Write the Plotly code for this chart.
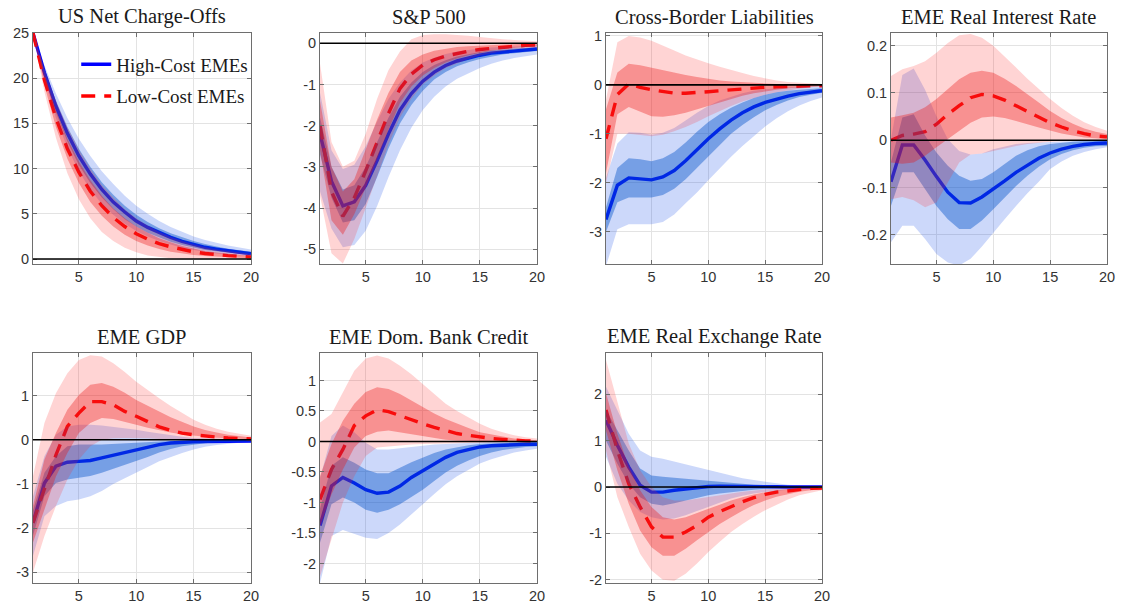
import plotly.graph_objects as go

# Horizon (quarters) shared by every panel
horizon = list(range(1, 21))

# ---------------- US Net Charge-Offs ----------------
nco_high = [25, 20.6, 16.9, 13.9, 11.4, 9.4, 7.7, 6.3, 5.2, 4.2, 3.5, 2.9, 2.4, 1.95, 1.6, 1.3, 1.1, 0.9, 0.75, 0.6]
nco_high_lo90 = [25, 19.9, 15.6, 12.3, 9.7, 7.7, 6.1, 4.9, 3.9, 3.1, 2.5, 2.0, 1.6, 1.25, 1.0, 0.8, 0.6, 0.5, 0.4, 0.3]
nco_high_lo68 = [25, 20.2, 16.2, 13.0, 10.4, 8.4, 6.8, 5.5, 4.4, 3.6, 2.9, 2.4, 1.9, 1.55, 1.25, 1.0, 0.85, 0.7, 0.55, 0.45]
nco_high_hi68 = [25, 21.0, 17.5, 14.6, 12.2, 10.2, 8.5, 7.1, 5.9, 4.9, 4.1, 3.4, 2.85, 2.4, 2.0, 1.65, 1.4, 1.15, 0.95, 0.8]
nco_high_hi90 = [25, 21.4, 18.3, 15.6, 13.3, 11.4, 9.7, 8.3, 7.0, 5.9, 5.0, 4.2, 3.55, 3.0, 2.5, 2.1, 1.8, 1.5, 1.25, 1.05]
nco_low = [25, 19.8, 15.6, 12.2, 9.6, 7.5, 5.9, 4.6, 3.6, 2.8, 2.2, 1.7, 1.35, 1.05, 0.8, 0.62, 0.48, 0.38, 0.3, 0.24]
nco_low_lo90 = [25, 18.5, 13.4, 9.5, 6.6, 4.5, 3.0, 2.0, 1.25, 0.75, 0.4, 0.2, 0.08, 0.02, 0, 0, 0, 0, 0, 0]
nco_low_lo68 = [25, 19.2, 14.6, 11.1, 8.4, 6.3, 4.8, 3.6, 2.7, 2.0, 1.5, 1.1, 0.82, 0.6, 0.45, 0.34, 0.26, 0.2, 0.15, 0.11]
nco_low_hi68 = [25, 20.4, 16.5, 13.3, 10.8, 8.7, 7.0, 5.6, 4.5, 3.6, 2.9, 2.3, 1.85, 1.45, 1.15, 0.9, 0.72, 0.57, 0.45, 0.36]
nco_low_hi90 = [25, 21.0, 17.5, 14.6, 12.1, 10.0, 8.2, 6.8, 5.5, 4.5, 3.7, 3.0, 2.45, 2.0, 1.6, 1.3, 1.05, 0.85, 0.7, 0.56]

# ---------------- S&P 500 ----------------
sp_high = [-2.2, -3.35, -3.95, -3.85, -3.45, -2.85, -2.2, -1.62, -1.22, -0.92, -0.7, -0.54, -0.43, -0.35, -0.29, -0.24, -0.21, -0.18, -0.16, -0.14]
sp_high_lo90 = [-3.6, -4.5, -4.95, -4.9, -4.55, -3.95, -3.25, -2.6, -2.05, -1.62, -1.3, -1.05, -0.86, -0.72, -0.6, -0.5, -0.42, -0.36, -0.31, -0.27]
sp_high_lo68 = [-2.7, -3.75, -4.35, -4.3, -3.9, -3.25, -2.55, -1.95, -1.5, -1.15, -0.88, -0.7, -0.56, -0.46, -0.38, -0.32, -0.27, -0.24, -0.21, -0.19]
sp_high_hi68 = [-1.8, -3.0, -3.55, -3.45, -3.0, -2.4, -1.8, -1.3, -0.95, -0.7, -0.53, -0.41, -0.32, -0.26, -0.21, -0.17, -0.15, -0.13, -0.11, -0.1]
sp_high_hi90 = [-1.2, -2.6, -3.05, -2.95, -2.5, -1.9, -1.35, -0.95, -0.66, -0.47, -0.35, -0.26, -0.2, -0.16, -0.13, -0.1, -0.08, -0.07, -0.06, -0.05]
sp_low = [-2.0, -3.6, -4.2, -3.75, -3.1, -2.4, -1.7, -1.1, -0.75, -0.53, -0.4, -0.31, -0.24, -0.19, -0.15, -0.12, -0.09, -0.07, -0.05, -0.04]
sp_low_lo90 = [-3.7, -5.1, -5.35, -4.75, -4.0, -3.2, -2.45, -1.8, -1.35, -1.0, -0.78, -0.6, -0.48, -0.38, -0.3, -0.24, -0.19, -0.15, -0.12, -0.1]
sp_low_lo68 = [-2.6, -4.3, -4.65, -4.15, -3.5, -2.8, -2.1, -1.45, -1.05, -0.78, -0.6, -0.47, -0.37, -0.29, -0.23, -0.18, -0.14, -0.11, -0.09, -0.07]
sp_low_hi68 = [-1.4, -3.0, -3.6, -3.3, -2.6, -1.85, -1.2, -0.7, -0.42, -0.27, -0.18, -0.13, -0.09, -0.07, -0.05, -0.04, -0.03, -0.02, -0.01, -0.01]
sp_low_hi90 = [-0.5, -2.4, -3.0, -2.85, -2.2, -1.35, -0.65, -0.2, 0.1, 0.2, 0.22, 0.22, 0.2, 0.18, 0.15, 0.12, 0.1, 0.08, 0.06, 0.05]

# ---------------- Cross-Border Liabilities ----------------
cbl_high = [-2.75, -2.05, -1.9, -1.92, -1.94, -1.88, -1.75, -1.55, -1.32, -1.1, -0.9, -0.72, -0.57, -0.45, -0.36, -0.29, -0.23, -0.18, -0.15, -0.12]
cbl_high_lo90 = [-3.7, -2.95, -2.85, -2.85, -2.85, -2.8, -2.65, -2.42, -2.2, -1.95, -1.7, -1.47, -1.25, -1.05, -0.85, -0.68, -0.54, -0.42, -0.33, -0.26]
cbl_high_lo68 = [-3.0, -2.4, -2.3, -2.3, -2.3, -2.25, -2.12, -1.93, -1.7, -1.46, -1.22, -1.0, -0.82, -0.66, -0.52, -0.41, -0.32, -0.25, -0.2, -0.16]
cbl_high_hi68 = [-2.5, -1.7, -1.5, -1.52, -1.56, -1.5, -1.37, -1.18, -0.96, -0.76, -0.6, -0.47, -0.36, -0.27, -0.2, -0.15, -0.12, -0.1, -0.08, -0.07]
cbl_high_hi90 = [-1.9, -1.2, -0.97, -0.98, -1.02, -0.98, -0.88, -0.73, -0.57, -0.43, -0.32, -0.24, -0.17, -0.12, -0.09, -0.07, -0.05, -0.04, -0.03, -0.03]
cbl_low = [-1.1, -0.2, 0.02, -0.05, -0.1, -0.14, -0.17, -0.17, -0.16, -0.14, -0.12, -0.1, -0.08, -0.07, -0.05, -0.04, -0.03, -0.03, -0.02, -0.02]
cbl_low_lo90 = [-2.0, -1.0, -1.0, -1.02, -1.05, -1.02, -0.95, -0.86, -0.76, -0.64, -0.53, -0.43, -0.34, -0.27, -0.2, -0.15, -0.11, -0.08, -0.05, -0.03]
cbl_low_lo68 = [-1.8, -0.6, -0.45, -0.55, -0.64, -0.65, -0.62, -0.57, -0.5, -0.42, -0.35, -0.28, -0.22, -0.17, -0.13, -0.1, -0.07, -0.05, -0.04, -0.03]
cbl_low_hi68 = [-0.5, 0.25, 0.43, 0.4, 0.35, 0.3, 0.25, 0.2, 0.16, 0.12, 0.09, 0.07, 0.05, 0.04, 0.03, 0.02, 0.01, 0.01, 0.01, 0.0]
cbl_low_hi90 = [-0.3, 0.87, 1.0, 0.97, 0.9, 0.8, 0.7, 0.6, 0.52, 0.44, 0.37, 0.3, 0.24, 0.18, 0.13, 0.09, 0.06, 0.04, 0.03, 0.02]

# ---------------- EME Real Interest Rate ----------------
rir_high = [-0.088, -0.01, -0.01, -0.042, -0.077, -0.11, -0.132, -0.133, -0.12, -0.104, -0.086, -0.068, -0.052, -0.038, -0.027, -0.019, -0.013, -0.009, -0.007, -0.006]
rir_high_lo90 = [-0.216, -0.181, -0.181, -0.209, -0.241, -0.259, -0.265, -0.251, -0.225, -0.195, -0.167, -0.139, -0.112, -0.088, -0.061, -0.045, -0.033, -0.025, -0.019, -0.015]
rir_high_lo68 = [-0.139, -0.068, -0.068, -0.103, -0.139, -0.167, -0.188, -0.188, -0.17, -0.146, -0.121, -0.097, -0.075, -0.056, -0.04, -0.029, -0.021, -0.016, -0.013, -0.012]
rir_high_hi68 = [-0.047, 0.048, 0.055, 0.01, -0.026, -0.054, -0.075, -0.086, -0.082, -0.068, -0.05, -0.033, -0.021, -0.013, -0.008, -0.005, -0.003, -0.002, -0.001, -0.001]
rir_high_hi90 = [0.002, 0.138, 0.152, 0.107, 0.051, 0.002, -0.023, -0.03, -0.028, -0.019, -0.013, -0.008, -0.006, -0.004, -0.003, -0.002, -0.001, -0.001, 0.0, 0.0]
rir_low = [0.0, 0.01, 0.013, 0.018, 0.034, 0.055, 0.073, 0.09, 0.097, 0.094, 0.085, 0.073, 0.06, 0.048, 0.037, 0.028, 0.02, 0.014, 0.009, 0.007]
rir_low_lo90 = [-0.125, -0.12, -0.127, -0.142, -0.132, -0.09, -0.047, -0.03, -0.028, -0.023, -0.017, -0.012, -0.008, -0.005, -0.003, -0.002, -0.001, 0.0, 0.0, 0.0]
rir_low_lo68 = [-0.047, -0.05, -0.047, -0.033, -0.015, 0.002, 0.02, 0.037, 0.048, 0.05, 0.047, 0.041, 0.034, 0.027, 0.02, 0.014, 0.01, 0.006, 0.004, 0.002]
rir_low_hi68 = [0.048, 0.053, 0.058, 0.07, 0.087, 0.108, 0.129, 0.143, 0.147, 0.143, 0.13, 0.115, 0.098, 0.08, 0.062, 0.047, 0.035, 0.025, 0.018, 0.013]
rir_low_hi90 = [0.136, 0.15, 0.157, 0.167, 0.185, 0.206, 0.222, 0.225, 0.217, 0.2, 0.178, 0.154, 0.13, 0.108, 0.087, 0.068, 0.052, 0.038, 0.028, 0.02]

# ---------------- EME GDP ----------------
gdp_high = [-1.88, -0.98, -0.6, -0.51, -0.49, -0.47, -0.41, -0.35, -0.28, -0.22, -0.16, -0.11, -0.075, -0.055, -0.045, -0.04, -0.035, -0.032, -0.03, -0.03]
gdp_high_lo90 = [-2.63, -1.73, -1.5, -1.39, -1.35, -1.28, -1.16, -1.0, -0.87, -0.75, -0.62, -0.49, -0.39, -0.3, -0.22, -0.16, -0.12, -0.09, -0.07, -0.06]
gdp_high_lo68 = [-2.17, -1.28, -0.98, -0.9, -0.86, -0.82, -0.75, -0.66, -0.57, -0.49, -0.39, -0.29, -0.21, -0.15, -0.11, -0.08, -0.06, -0.05, -0.045, -0.04]
gdp_high_hi68 = [-1.6, -0.75, -0.375, -0.15, -0.11, -0.11, -0.11, -0.1, -0.09, -0.075, -0.06, -0.045, -0.03, -0.02, -0.015, -0.01, -0.008, -0.006, -0.005, -0.005]
gdp_high_hi90 = [-1.28, -0.375, 0.11, 0.3, 0.34, 0.34, 0.32, 0.29, 0.26, 0.225, 0.18, 0.135, 0.1, 0.065, 0.04, 0.03, 0.02, 0.015, 0.01, 0.008]
gdp_low = [-1.88, -1.1, -0.35, 0.3, 0.6, 0.86, 0.86, 0.79, 0.64, 0.53, 0.4, 0.29, 0.21, 0.15, 0.11, 0.08, 0.06, 0.04, 0.025, 0.015]
gdp_low_lo90 = [-3.0, -2.18, -1.5, -0.9, -0.45, -0.15, 0.0, 0.03, 0.04, 0.04, 0.03, 0.015, 0.005, 0.0, 0.0, 0.0, 0.0, 0.0, 0.0, 0.0]
gdp_low_lo68 = [-2.33, -1.58, -0.83, -0.3, 0.15, 0.375, 0.49, 0.47, 0.41, 0.34, 0.27, 0.21, 0.16, 0.12, 0.09, 0.065, 0.045, 0.03, 0.02, 0.01]
gdp_low_hi68 = [-1.5, -0.45, 0.15, 0.68, 1.01, 1.24, 1.28, 1.2, 1.06, 0.9, 0.77, 0.64, 0.51, 0.4, 0.3, 0.22, 0.16, 0.11, 0.08, 0.05]
gdp_low_hi90 = [-0.83, 0.375, 1.05, 1.5, 1.8, 1.91, 1.88, 1.73, 1.53, 1.31, 1.12, 0.94, 0.76, 0.6, 0.45, 0.34, 0.25, 0.18, 0.13, 0.09]

# ---------------- EME Dom. Bank Credit ----------------
dbc_high = [-1.38, -0.73, -0.59, -0.68, -0.79, -0.85, -0.83, -0.73, -0.59, -0.48, -0.36, -0.26, -0.18, -0.13, -0.09, -0.07, -0.06, -0.05, -0.047, -0.045]
dbc_high_lo90 = [-2.32, -1.55, -1.45, -1.51, -1.58, -1.6, -1.5, -1.36, -1.2, -1.03, -0.86, -0.7, -0.57, -0.46, -0.36, -0.29, -0.23, -0.18, -0.15, -0.12]
dbc_high_lo68 = [-1.66, -1.03, -0.92, -1.0, -1.12, -1.17, -1.12, -1.03, -0.91, -0.79, -0.65, -0.51, -0.4, -0.31, -0.24, -0.18, -0.14, -0.11, -0.09, -0.08]
dbc_high_hi68 = [-1.1, -0.4, -0.26, -0.35, -0.46, -0.52, -0.52, -0.43, -0.34, -0.26, -0.19, -0.13, -0.09, -0.06, -0.04, -0.03, -0.02, -0.015, -0.01, -0.01]
dbc_high_hi90 = [-0.6, 0.09, 0.26, 0.15, -0.02, -0.13, -0.13, -0.12, -0.1, -0.07, -0.05, -0.04, -0.03, -0.02, -0.015, -0.01, -0.005, 0.0, 0.0, 0.0]
dbc_low = [-0.95, -0.46, -0.13, 0.26, 0.42, 0.52, 0.49, 0.42, 0.35, 0.29, 0.23, 0.18, 0.13, 0.1, 0.07, 0.05, 0.035, 0.02, 0.01, 0.005]
dbc_low_lo90 = [-2.21, -1.61, -1.0, -0.57, -0.24, -0.1, -0.08, -0.06, -0.05, -0.04, -0.035, -0.03, -0.025, -0.02, -0.015, -0.01, -0.01, -0.005, -0.005, -0.005]
dbc_low_lo68 = [-1.39, -0.87, -0.46, -0.1, 0.09, 0.16, 0.18, 0.15, 0.11, 0.08, 0.05, 0.03, 0.015, 0.005, 0.0, -0.005, -0.005, -0.005, -0.005, -0.005]
dbc_low_hi68 = [-0.57, -0.04, 0.34, 0.62, 0.81, 0.89, 0.86, 0.78, 0.67, 0.56, 0.46, 0.37, 0.29, 0.22, 0.15, 0.11, 0.08, 0.05, 0.03, 0.02]
dbc_low_hi90 = [0.31, 0.45, 0.81, 1.16, 1.36, 1.41, 1.36, 1.24, 1.1, 0.95, 0.78, 0.62, 0.5, 0.39, 0.29, 0.21, 0.15, 0.1, 0.07, 0.05]

# ---------------- EME Real Exchange Rate ----------------
rer_high = [1.44, 0.9, 0.43, 0.04, -0.11, -0.11, -0.07, -0.04, -0.01, 0.01, 0.02, 0.02, 0.02, 0.015, 0.01, 0.005, 0.0, 0.0, 0.0, 0.0]
rer_high_lo90 = [0.65, 0.07, -0.29, -0.54, -0.65, -0.7, -0.68, -0.61, -0.52, -0.43, -0.34, -0.25, -0.19, -0.14, -0.11, -0.08, -0.06, -0.04, -0.03, -0.02]
rer_high_lo68 = [1.0, 0.5, 0.07, -0.22, -0.36, -0.4, -0.35, -0.29, -0.23, -0.18, -0.14, -0.11, -0.08, -0.06, -0.04, -0.03, -0.02, -0.015, -0.01, -0.01]
rer_high_hi68 = [1.66, 1.22, 0.79, 0.4, 0.25, 0.22, 0.2, 0.18, 0.15, 0.13, 0.11, 0.09, 0.07, 0.05, 0.04, 0.03, 0.02, 0.015, 0.01, 0.01]
rer_high_hi90 = [2.16, 1.66, 1.15, 0.79, 0.65, 0.61, 0.56, 0.5, 0.43, 0.37, 0.31, 0.25, 0.19, 0.15, 0.11, 0.08, 0.05, 0.03, 0.02, 0.01]
rer_low = [1.66, 0.79, 0.07, -0.43, -0.86, -1.08, -1.08, -0.97, -0.83, -0.65, -0.53, -0.42, -0.32, -0.23, -0.16, -0.11, -0.08, -0.05, -0.03, -0.02]
rer_low_lo90 = [0.79, -0.22, -0.86, -1.44, -1.8, -2.0, -2.02, -1.87, -1.65, -1.4, -1.18, -0.97, -0.8, -0.64, -0.5, -0.38, -0.27, -0.18, -0.12, -0.07]
rer_low_lo68 = [1.22, 0.36, -0.36, -0.94, -1.3, -1.48, -1.48, -1.33, -1.15, -0.97, -0.8, -0.65, -0.51, -0.39, -0.29, -0.21, -0.15, -0.1, -0.07, -0.05]
rer_low_hi68 = [2.02, 1.15, 0.43, -0.07, -0.43, -0.65, -0.7, -0.65, -0.56, -0.47, -0.38, -0.29, -0.22, -0.16, -0.11, -0.07, -0.05, -0.03, -0.02, -0.01]
rer_low_hi90 = [2.74, 1.87, 0.94, 0.36, 0.0, -0.22, -0.29, -0.29, -0.26, -0.22, -0.18, -0.14, -0.1, -0.07, -0.05, -0.03, -0.02, -0.01, -0.005, 0.0]

# Panel titles, y ranges and tick labels
titles = ["US Net Charge-Offs", "S&P 500", "Cross-Border Liabilities", "EME Real Interest Rate",
          "EME GDP", "EME Dom. Bank Credit", "EME Real Exchange Rate"]
y_ranges = [[-0.55, 25], [-5.36, 0.25], [-3.66, 1.06], [-0.262, 0.227],
            [-3.24, 1.96], [-2.32, 1.45], [-2.07, 2.89]]
y_ticks = [[0, 5, 10, 15, 20, 25],
           [-5, -4, -3, -2, -1, 0],
           [-3, -2, -1, 0, 1],
           [-0.2, -0.1, 0, 0.1, 0.2],
           [-3, -2, -1, 0, 1],
           [-2, -1.5, -1, -0.5, 0, 0.5, 1],
           [-2, -1, 0, 1, 2]]
y_ticktext = [["0", "5", "10", "15", "20", "25"],
              ["-5", "-4", "-3", "-2", "-1", "0"],
              ["-3", "-2", "-1", "0", "1"],
              ["-0.2", "-0.1", "0", "0.1", "0.2"],
              ["-3", "-2", "-1", "0", "1"],
              ["-2", "-1.5", "-1", "-0.5", "0", "0.5", "1"],
              ["-2", "-1", "0", "1", "2"]]
x_ticks = [5, 10, 15, 20]
series_names = ["High-Cost EMEs", "Low-Cost EMEs"]

panels = [
    (nco_high, nco_high_lo90, nco_high_lo68, nco_high_hi68, nco_high_hi90,
     nco_low, nco_low_lo90, nco_low_lo68, nco_low_hi68, nco_low_hi90),
    (sp_high, sp_high_lo90, sp_high_lo68, sp_high_hi68, sp_high_hi90,
     sp_low, sp_low_lo90, sp_low_lo68, sp_low_hi68, sp_low_hi90),
    (cbl_high, cbl_high_lo90, cbl_high_lo68, cbl_high_hi68, cbl_high_hi90,
     cbl_low, cbl_low_lo90, cbl_low_lo68, cbl_low_hi68, cbl_low_hi90),
    (rir_high, rir_high_lo90, rir_high_lo68, rir_high_hi68, rir_high_hi90,
     rir_low, rir_low_lo90, rir_low_lo68, rir_low_hi68, rir_low_hi90),
    (gdp_high, gdp_high_lo90, gdp_high_lo68, gdp_high_hi68, gdp_high_hi90,
     gdp_low, gdp_low_lo90, gdp_low_lo68, gdp_low_hi68, gdp_low_hi90),
    (dbc_high, dbc_high_lo90, dbc_high_lo68, dbc_high_hi68, dbc_high_hi90,
     dbc_low, dbc_low_lo90, dbc_low_lo68, dbc_low_hi68, dbc_low_hi90),
    (rer_high, rer_high_lo90, rer_high_lo68, rer_high_hi68, rer_high_hi90,
     rer_low, rer_low_lo90, rer_low_lo68, rer_low_hi68, rer_low_hi90),
]

# Layout geometry (paper fractions) for the 4 x 2 grid
col_domains = [[0.0294, 0.2239], [0.2855, 0.4790], [0.5406, 0.7333], [0.7948, 0.9875]]
row_domains = [[0.0364, 0.4165], [0.5636, 0.9455]][::-1]

# Styles
BLUE_LINE = "rgb(0,0,255)"
RED_LINE = "rgb(255,0,0)"
BLUE_90 = "rgba(0,60,230,0.20)"
BLUE_68 = "rgba(0,80,200,0.42)"
RED_90 = "rgba(255,40,40,0.20)"
RED_68 = "rgba(235,20,20,0.35)"
TICK_FONT = dict(family="Liberation Sans, Arial, sans-serif", size=14.5, color="#333333")
TITLE_FONT = dict(family="Liberation Serif, Times New Roman, serif", size=20.5, color="#1a1a1a")

fig = go.Figure()


def band(x, lo, hi, color, xa, ya):
    return go.Scatter(x=x + x[::-1], y=lo + hi[::-1], fill="toself", fillcolor=color,
                      line=dict(width=0), mode="lines", hoverinfo="skip",
                      showlegend=False, xaxis=xa, yaxis=ya)


annotations = []
shapes = []
for i, data in enumerate(panels):
    (h, h_lo90, h_lo68, h_hi68, h_hi90, l, l_lo90, l_lo68, l_hi68, l_hi90) = data
    row, col = divmod(i, 4)
    n = i + 1
    xa = "x" if n == 1 else f"x{n}"
    ya = "y" if n == 1 else f"y{n}"

    # median responses underneath the shaded bands
    fig.add_trace(go.Scatter(x=horizon, y=h, mode="lines", name=series_names[0],
                             line=dict(color=BLUE_LINE, width=3.4),
                             showlegend=(i == 0), legendgroup="high", xaxis=xa, yaxis=ya))
    fig.add_trace(go.Scatter(x=horizon, y=l, mode="lines", name=series_names[1],
                             line=dict(color=RED_LINE, width=3.4, dash="14px,9px"),
                             showlegend=(i == 0), legendgroup="low", xaxis=xa, yaxis=ya))
    # 90% and 68% bands
    fig.add_trace(band(horizon, h_lo90, h_hi90, BLUE_90, xa, ya))
    fig.add_trace(band(horizon, h_lo68, h_hi68, BLUE_68, xa, ya))
    fig.add_trace(band(horizon, l_lo90, l_hi90, RED_90, xa, ya))
    fig.add_trace(band(horizon, l_lo68, l_hi68, RED_68, xa, ya))

    axis_common = dict(showline=True, linecolor="#6e6e6e", linewidth=1, mirror="ticks",
                       ticks="inside", ticklen=4, tickcolor="#6e6e6e",
                       showgrid=True, gridcolor="#e3e3e3", gridwidth=1,
                       zeroline=False, tickfont=TICK_FONT, automargin=False)
    fig.layout[xa.replace("x", "xaxis")] = dict(
        domain=col_domains[col], anchor=ya, range=[1, 20],
        tickvals=x_ticks, ticktext=[str(v) for v in x_ticks], **axis_common)
    fig.layout[ya.replace("y", "yaxis")] = dict(
        domain=row_domains[row], anchor=xa, range=y_ranges[i],
        tickvals=y_ticks[i], ticktext=y_ticktext[i], **axis_common)

    # black zero reference line
    shapes.append(dict(type="line", xref=f"{xa} domain", yref=ya, x0=0, x1=1, y0=0, y1=0,
                       line=dict(color="black", width=1.6), layer="above"))
    # panel title
    annotations.append(dict(text=titles[i], xref="paper", yref="paper",
                            x=sum(col_domains[col]) / 2, y=row_domains[row][1],
                            xanchor="center", yanchor="bottom", yshift=3,
                            showarrow=False, font=TITLE_FONT))

fig.update_layout(
    width=1121, height=605,
    margin=dict(l=0, r=0, t=0, b=0, pad=0, autoexpand=False),
    paper_bgcolor="white", plot_bgcolor="white",
    shapes=shapes, annotations=annotations,
    showlegend=True,
    legend=dict(x=0.068, y=0.925, xanchor="left", yanchor="top",
                bgcolor="rgba(0,0,0,0)", borderwidth=0,
                font=dict(family="Liberation Serif, Times New Roman, serif", size=19, color="#1a1a1a"),
                tracegroupgap=4, traceorder="grouped"),
)

fig.write_html("out.html")
